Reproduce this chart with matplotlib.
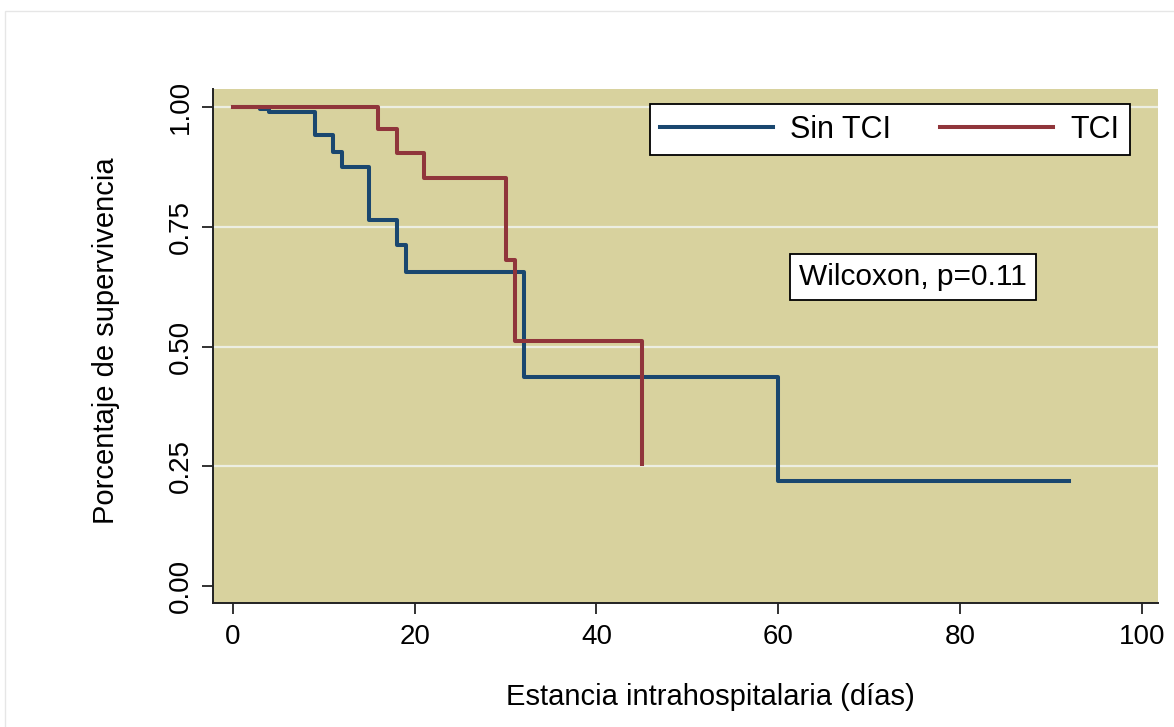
import matplotlib
matplotlib.use("Agg")
import matplotlib.pyplot as plt
from matplotlib.patches import Rectangle

plt.rcParams["font.family"] = ["Liberation Sans", "DejaVu Sans"]

# Kaplan-Meier estimates
sin_tci_days = [0, 3, 4, 9, 11, 12, 15, 18, 19, 32, 60, 92]
sin_tci_surv = [1.0, 0.995, 0.989, 0.941, 0.907, 0.874, 0.765, 0.711, 0.656, 0.437, 0.219, 0.219]

tci_days = [0, 16, 18, 21, 30, 31, 45]
tci_surv = [1.0, 0.953, 0.905, 0.851, 0.681, 0.511, 0.255]

y_ticks = [0.0, 0.25, 0.50, 0.75, 1.00]
grid_levels = [0.25, 0.50, 0.75, 1.00]
x_ticks = [0, 20, 40, 60, 80, 100]

BLUE = "#1a476f"
RED = "#90353b"
BG = "#d8d29e"

fig = plt.figure(figsize=(11.74, 7.27), dpi=100)
fig.patches.append(Rectangle((5 / 1174, -0.1), 1.2, 1.1 - 11 / 727,
                             transform=fig.transFigure, fill=False,
                             edgecolor="#e6e6e6", linewidth=1.0))
ax = fig.add_axes([213 / 1174, 1 - 603 / 727, 945 / 1174, 514 / 727])
ax.set_facecolor(BG)

for g in grid_levels:
    ax.axhline(g, color="#eceee2", linewidth=1.6, zorder=1)

ax.step(sin_tci_days, sin_tci_surv, where="post", color=BLUE, linewidth=2.9,
        label="Sin TCI", zorder=3)
ax.step(tci_days, tci_surv, where="post", color=RED, linewidth=2.9,
        label="TCI", zorder=4)

ax.set_xlim(-2.2, 101.8)
ax.set_ylim(-0.035, 1.0375)
ax.set_xticks(x_ticks)
ax.set_yticks(y_ticks)
ax.set_yticklabels([f"{v:.2f}" for v in y_ticks], rotation=90, va="center")
ax.tick_params(axis="both", labelsize=20, length=8, width=1.3, color="#222222")
ax.tick_params(axis="x", pad=7)
ax.tick_params(axis="y", pad=6)

for side in ["top", "right"]:
    ax.spines[side].set_visible(False)
for side in ["left", "bottom"]:
    ax.spines[side].set_linewidth(1.4)
    ax.spines[side].set_color("#222222")

ax.set_xlabel("Estancia intrahospitalaria (días)", fontsize=21, labelpad=24)
ax.xaxis.set_label_coords(0.526, -0.155)
ax.set_ylabel("Porcentaje de supervivencia", fontsize=21)
ax.yaxis.set_label_coords(-0.098, 0.51)

leg = ax.legend(loc="upper right", bbox_to_anchor=(0.970, 0.971), ncol=2,
                fontsize=22, frameon=True, fancybox=False, handlelength=3.7,
                handletextpad=0.55, columnspacing=1.6, borderpad=0.35,
                borderaxespad=0)
leg.get_frame().set_edgecolor("black")
leg.get_frame().set_linewidth(1.3)
leg.get_frame().set_facecolor("white")
leg.get_frame().set_alpha(1)
for line in leg.get_lines():
    line.set_linewidth(2.9)

ax.text(0.741, 0.634, "Wilcoxon, p=0.11", transform=ax.transAxes, fontsize=21.5,
        ha="center", va="center",
        bbox=dict(boxstyle="square,pad=0.3", facecolor="white",
                  edgecolor="black", linewidth=1.3))

fig.savefig("out.png", dpi=100)
